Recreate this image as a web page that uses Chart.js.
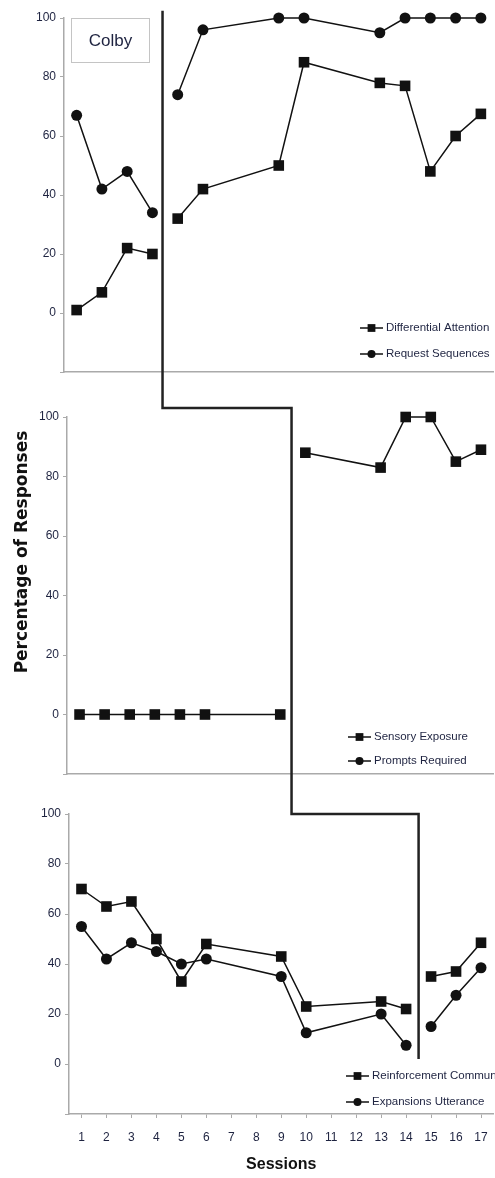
<!DOCTYPE html>
<html>
<head>
<meta charset="utf-8">
<script src="https://cdn.jsdelivr.net/npm/chart.js@4.4.1/dist/chart.umd.min.js"></script>
<style>
  html, body { margin: 0; padding: 0; background: #fff; overflow: hidden; }
  #lienzo { position: relative; width: 495px; height: 1178px; overflow: hidden; }
  canvas { position: absolute; left: 0; }
  #panel1 { top: 0; }
  #panel2 { top: 395px; }
  #panel3 { top: 795px; }
  #colby {
    position: absolute; left: 71px; top: 18px; width: 79px; height: 45px;
    border: 1px solid #c4c4c4; box-sizing: border-box;
    font: 17px 'Liberation Sans Narrow', 'Liberation Sans', sans-serif; color: #1e2340;
    display: flex; align-items: center; justify-content: center;
  }
  #tituloY {
    position: absolute; left: 20.5px; top: 553px; width: 260px; margin-left: -130px; margin-top: -11px;
    transform: rotate(-90deg); text-align: center; line-height: 22px;
    font: bold 17px 'DejaVu Sans', sans-serif; color: #111;
  }
</style>
</head>
<body>
<div id="lienzo">
  <canvas id="panel1" width="501" height="395"></canvas>
  <canvas id="panel2" width="501" height="400"></canvas>
  <canvas id="panel3" width="501" height="383"></canvas>
  <div id="colby">Colby</div>
  <div id="tituloY">Percentage of Responses</div>
</div>
<script>
// 1. Datos: sesiones con registro y valores de cada serie (porcentaje)
const sesiones = [1, 2, 3, 4, 5, 6, 9, 10, 13, 14, 15, 16, 17];
const sesionesEje = [1, 2, 3, 4, 5, 6, 7, 8, 9, 10, 11, 12, 13, 14, 15, 16, 17];

const atencionDiferencial = [1, 7, 22, 20, 32, 42, 50, 85, 78, 77, 48, 60, 67.5];
const secuenciasPeticion = [67, 42, 48, 34, 74, 96, 100, 100, 95, 100, 100, 100, 100];

const exposicionSensorial = [0, 0, 0, 0, 0, 0, 0, 88, 83, 100, 100, 85, 89];
const ayudasRequeridas = [];

const refuerzoComunicacion = [70, 63, 65, 50, 33, 48, 43, 23, 25, 22, 35, 37, 48.5];
const expansionesEmision = [55, 42, 48.5, 45, 40, 42, 35, 12.5, 20, 7.5, 15, 27.5, 38.5];

// 2. Cambios de fase (entre sesiones) para la línea escalonada
const cambiosFase = [4.4, 9.45, 14.5];
const faseInicio = 102.5;       // extremo superior en el panel 1
const faseEscalon = [103, 100]; // altura del tramo horizontal en panel 2 y 3
const faseFin = 2;              // extremo inferior en el panel 3

const FUENTE = "'Liberation Sans Narrow', 'Liberation Sans', sans-serif";
const COLOR_TEXTO = '#1e2340';
Chart.defaults.font.family = FUENTE;
Chart.defaults.color = COLOR_TEXTO;

const graficos = [];

function puntos(valores) {
    return valores.map((v, i) => ({ x: sesiones[i], y: v }));
}

// 3. Serie con línea cortada en el cambio de fase
function serie(label, valores, estilo, fase) {
    return {
        label: label,
        data: puntos(valores),
        clip: false,
        pointStyle: estilo,
        pointRadius: estilo === 'rect' ? 7.5 : 5.5,
        pointBorderWidth: 0,
        pointBackgroundColor: '#111',
        borderColor: '#111',
        borderWidth: 1.5,
        segment: {
            borderColor: c => (c.p0.parsed.x < fase && c.p1.parsed.x > fase) ? 'rgba(0,0,0,0)' : '#111'
        }
    };
}

// 4. Plugin: leyenda dentro del área del gráfico
const leyendaInterna = {
    id: 'leyendaInterna',
    afterDraw(chart, args, opts) {
        const ctx = chart.ctx;
        ctx.save();
        ctx.font = '11.5px ' + FUENTE;
        ctx.textBaseline = 'middle';
        chart.data.datasets.forEach((ds, i) => {
            const x = opts.x;
            const y = opts.y[i];
            ctx.strokeStyle = '#111';
            ctx.lineWidth = 1.5;
            ctx.beginPath();
            ctx.moveTo(x, y);
            ctx.lineTo(x + 23, y);
            ctx.stroke();
            ctx.fillStyle = '#111';
            Chart.helpers.drawPoint(ctx, { pointStyle: ds.pointStyle, radius: ds.pointStyle === 'rect' ? 5.5 : 4, borderWidth: 0 }, x + 11.5, y);
            ctx.fillStyle = COLOR_TEXTO;
            ctx.fillText(ds.label, x + 26, y);
        });
        ctx.restore();
    }
};

// 5. Plugin: línea de cambio de fase que cruza los tres paneles
const lineaFase = {
    id: 'lineaFase',
    afterDraw(chart, args, opts) {
        const i = opts.panel;
        const ctx = chart.ctx;
        const sx = chart.scales.x;
        const sy = chart.scales.y;
        const xActual = sx.getPixelForValue(cambiosFase[i]);
        ctx.save();
        ctx.strokeStyle = '#222';
        ctx.lineWidth = 2.5;
        ctx.beginPath();
        let yDesde;
        if (i === 0) {
            yDesde = sy.getPixelForValue(faseInicio);
            ctx.moveTo(xActual, yDesde);
        } else {
            const xPrevio = graficos[i - 1].scales.x.getPixelForValue(cambiosFase[i - 1]);
            yDesde = sy.getPixelForValue(faseEscalon[i - 1]);
            ctx.moveTo(xPrevio, 0);
            ctx.lineTo(xPrevio, yDesde);
            ctx.lineTo(xActual, yDesde);
        }
        const yHasta = i === 2 ? sy.getPixelForValue(faseFin) : chart.height;
        ctx.lineTo(xActual, yHasta);
        ctx.stroke();
        ctx.restore();
    }
};

// 6. Crear un panel
function crearPanel(id, panel, series, cfg) {
    const grafico = new Chart(document.getElementById(id), {
        type: 'line',
        data: { datasets: series },
        options: {
            responsive: false,
            animation: false,
            layout: { padding: { top: cfg.arriba, right: cfg.derecha, left: 0, bottom: 0 } },
            plugins: {
                legend: { display: false },
                tooltip: { enabled: false },
                leyendaInterna: cfg.leyenda,
                lineaFase: { panel: panel }
            },
            scales: {
                x: {
                    type: 'linear',
                    min: 0.5,
                    max: 17.5,
                    afterBuildTicks: s => { s.ticks = sesionesEje.map(v => ({ value: v })); },
                    afterFit: s => { s.height = cfg.altoX; },
                    ticks: { display: cfg.etiquetasX, padding: 12, font: { size: 12 } },
                    grid: { display: cfg.etiquetasX, drawOnChartArea: false, tickLength: 4, color: '#aaa' },
                    border: { color: '#aaa', width: 1.5 },
                    title: {
                        display: cfg.etiquetasX,
                        text: 'Sessions',
                        font: { size: 16, weight: 'bold' },
                        color: '#111',
                        padding: { top: 9, bottom: 4 }
                    }
                },
                y: {
                    min: -20,
                    max: 100,
                    afterFit: s => { s.width = cfg.anchoY; },
                    ticks: {
                        stepSize: 20,
                        padding: 4,
                        font: { size: 12 },
                        callback: v => v < 0 ? '' : v
                    },
                    grid: { drawOnChartArea: false, tickLength: 4, color: '#aaa' },
                    border: { color: '#aaa', width: 1.5 }
                }
            }
        },
        plugins: [leyendaInterna, lineaFase]
    });
    graficos.push(grafico);
    return grafico;
}

// 7. Dibujar los tres paneles
crearPanel('panel1', 0, [
    serie('Differential Attention', atencionDiferencial, 'rect', cambiosFase[0]),
    serie('Request Sequences', secuenciasPeticion, 'circle', cambiosFase[0])
], { arriba: 18, derecha: 7, anchoY: 64, altoX: 23, etiquetasX: false, leyenda: { x: 360, y: [328, 354] } });

crearPanel('panel2', 1, [
    serie('Sensory Exposure', exposicionSensorial, 'rect', cambiosFase[1]),
    serie('Prompts Required', ayudasRequeridas, 'circle', cambiosFase[1])
], { arriba: 22, derecha: 2, anchoY: 67, altoX: 21, etiquetasX: false, leyenda: { x: 348, y: [342, 366] } });

crearPanel('panel3', 2, [
    serie('Reinforcement Communication', refuerzoComunicacion, 'rect', cambiosFase[2]),
    serie('Expansions Utterance', expansionesEmision, 'circle', cambiosFase[2])
], { arriba: 19, derecha: 2, anchoY: 69, altoX: 64, etiquetasX: true, leyenda: { x: 346, y: [281, 307] } });
</script>
</body>
</html>
